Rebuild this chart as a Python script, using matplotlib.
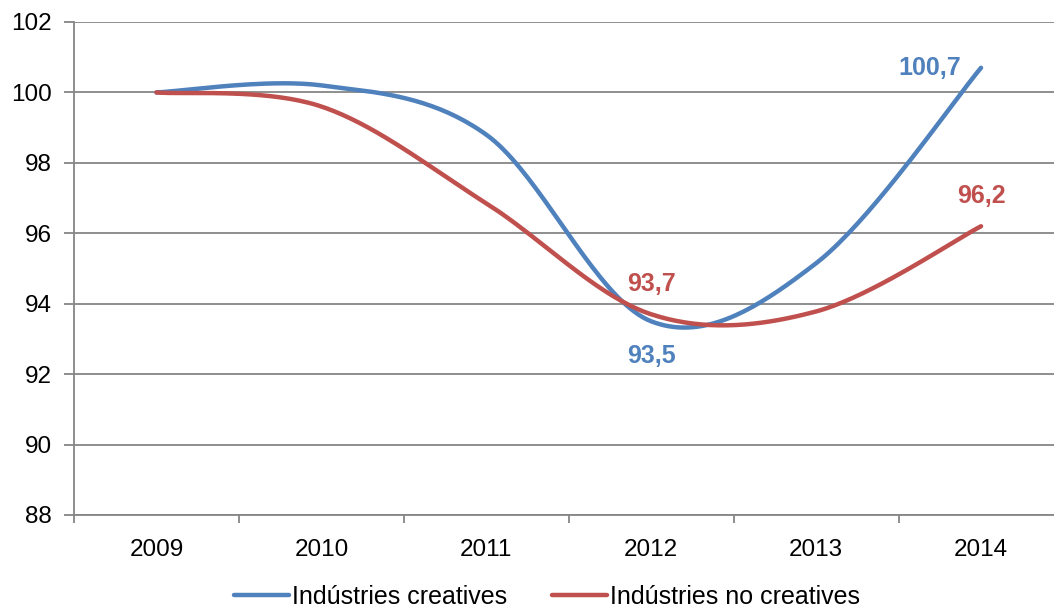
import numpy as np
import matplotlib.pyplot as plt

plt.rcParams['font.family'] = ['Liberation Sans', 'DejaVu Sans']

years = ['2009', '2010', '2011', '2012', '2013', '2014']
creatives = [100.0, 100.2, 98.8, 93.5, 95.15, 100.7]
no_creatives = [100.0, 99.6, 96.85, 93.7, 93.78, 96.2]

blue = '#4F81BD'
red = '#C0504D'
grid_col = '#868686'


# Excel-style smoothed line (cubic Bezier with 1/6 tangents)
def smooth(x, y, n=40):
    pts = np.column_stack([np.asarray(x, float), np.asarray(y, float)])
    out = []
    for i in range(len(pts) - 1):
        p0 = pts[max(i - 1, 0)]
        p1 = pts[i]
        p2 = pts[i + 1]
        p3 = pts[min(i + 2, len(pts) - 1)]
        c1 = p1 + (p2 - p0) / 6
        c2 = p2 - (p3 - p1) / 6
        t = np.linspace(0, 1, n)[:, None]
        seg = (1 - t) ** 3 * p1 + 3 * (1 - t) ** 2 * t * c1 + 3 * (1 - t) * t ** 2 * c2 + t ** 3 * p2
        out.append(seg if i == 0 else seg[1:])
    out = np.vstack(out)
    return out[:, 0], out[:, 1]


x = np.arange(len(years))

fig = plt.figure(figsize=(10.54, 6.10), dpi=100)
ax = fig.add_axes([74 / 1054, 1 - 515 / 610, (1063.5 - 74) / 1054, (515 - 22) / 610])

sx, sy = smooth(x, creatives)
ax.plot(sx, sy, color=blue, lw=3.2, solid_capstyle='round', label='Indústries creatives', zorder=3)
sx, sy = smooth(x, no_creatives)
ax.plot(sx, sy, color=red, lw=3.2, solid_capstyle='round', label='Indústries no creatives', zorder=3)

ax.set_xlim(-0.5, len(years) - 0.5)
ax.set_ylim(88, 102)
ax.set_yticks(np.arange(88, 103, 2))
ax.set_xticks(x)
ax.set_xticklabels(years)
ax.set_xticks(np.arange(-0.5, len(years), 1), minor=True)
ax.tick_params(axis='x', which='major', length=0, pad=17, labelsize=17.5)
ax.tick_params(axis='x', which='minor', length=6, width=1.3, color=grid_col)
ax.tick_params(axis='y', length=7, width=1.3, color=grid_col, labelsize=17.5, pad=9)
ax.grid(axis='y', color=grid_col, lw=1.3)
ax.set_axisbelow(True)
for s in ['top', 'right']:
    ax.spines[s].set_visible(False)
for s in ['left', 'bottom']:
    ax.spines[s].set_color(grid_col)
    ax.spines[s].set_linewidth(1.3)

lab_kw = dict(fontsize=18, fontweight='bold', ha='center', va='center')
ax.annotate('93,7', (3, no_creatives[3]), xytext=(0, 22), textcoords='offset points', color=red, **lab_kw)
ax.annotate('93,5', (3, creatives[3]), xytext=(0, -25), textcoords='offset points', color=blue, **lab_kw)
ax.annotate('100,7', (5, creatives[5]), xytext=(-37, 0), textcoords='offset points', color=blue, **lab_kw)
ax.annotate('96,2', (5, no_creatives[5]), xytext=(0, 22), textcoords='offset points', color=red, **lab_kw)

fig.legend(loc='lower center', ncol=2, frameon=False, fontsize=18, handlelength=2.2,
           handletextpad=0.1, columnspacing=1.8, bbox_to_anchor=(0.519, -0.035))

fig.savefig('out.png', dpi=100)
